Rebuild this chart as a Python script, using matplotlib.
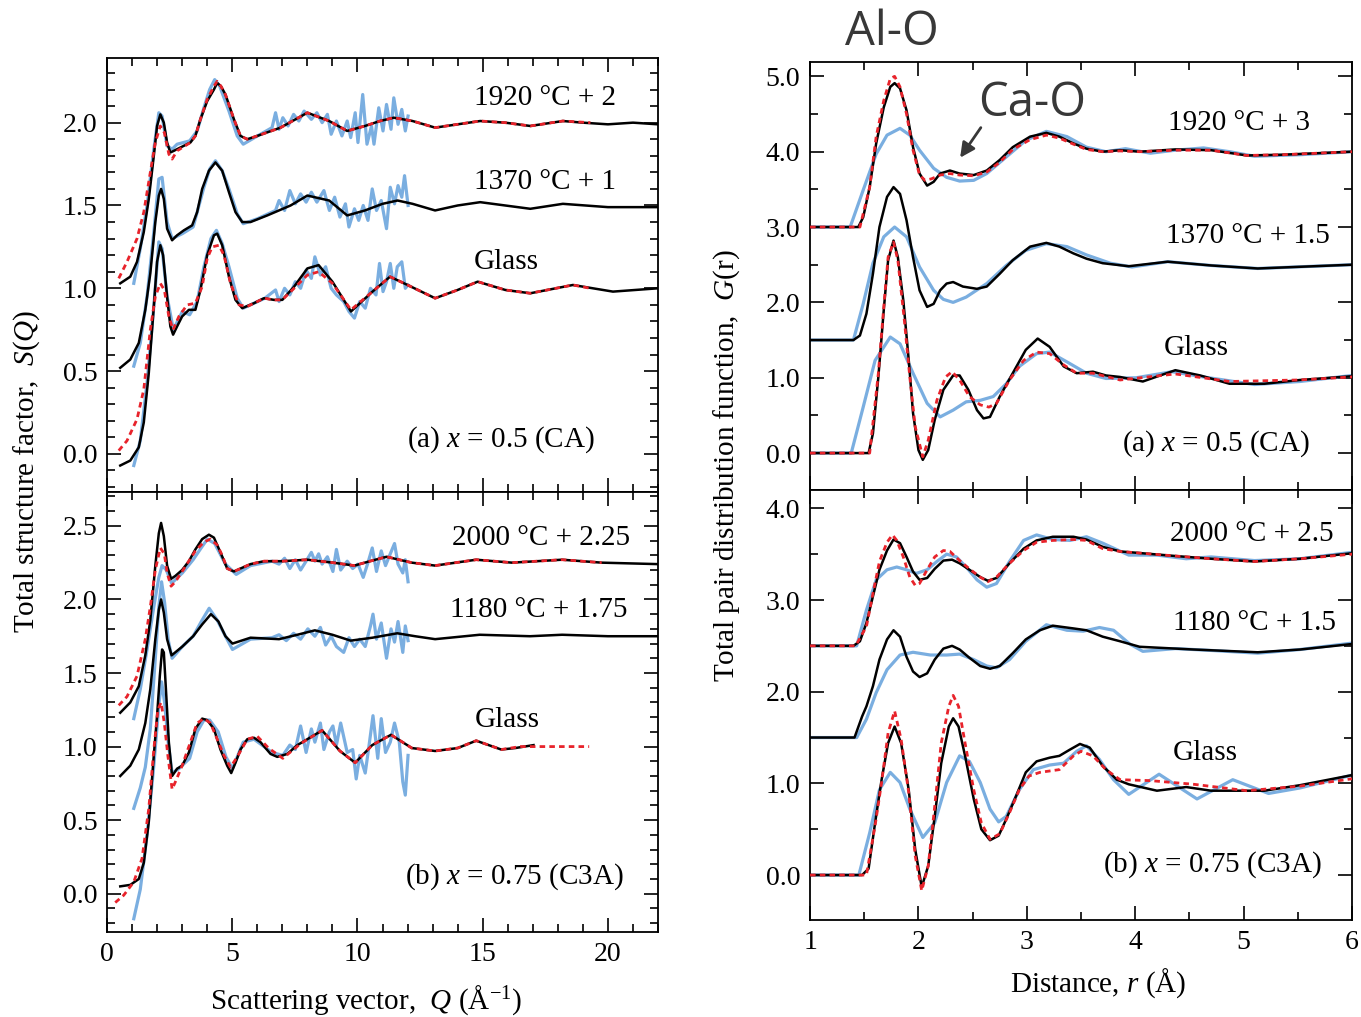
import numpy as np
import matplotlib.pyplot as plt
from matplotlib.ticker import MultipleLocator, FormatStrFormatter

plt.rcParams['font.family'] = 'Liberation Serif'
plt.rcParams['mathtext.fontset'] = 'custom'
plt.rcParams['mathtext.rm'] = 'Liberation Serif'
plt.rcParams['mathtext.it'] = 'Liberation Serif:italic'

BLUE = '#7aaee0'
RED = '#e8232b'

# ---------------- S(Q), x = 0.5 (CA) ----------------
q_1920_blk = [0.53, 0.93, 1.2, 1.47, 1.67, 1.87, 2.0, 2.13, 2.27, 2.4, 2.53, 2.67, 2.93, 3.33, 3.53, 3.73, 4.0, 4.27, 4.4, 4.55, 4.73, 5.07, 5.33, 5.6, 6.0, 6.93, 8.0, 8.87, 9.59, 10.3, 10.9, 11.45, 12.2, 13.1, 14.0, 14.9, 15.9, 16.9, 18.2, 19.0, 20.0, 21.0, 22.0]
s_1920_blk = [1.03, 1.07, 1.16, 1.34, 1.54, 1.80, 1.98, 2.05, 2.0, 1.88, 1.82, 1.83, 1.85, 1.88, 1.92, 2.02, 2.13, 2.20, 2.24, 2.22, 2.17, 2.02, 1.92, 1.90, 1.92, 1.97, 2.06, 2.01, 1.95, 1.98, 2.01, 2.03, 2.01, 1.97, 1.99, 2.01, 2.0, 1.98, 2.01, 2.0, 1.99, 2.0, 1.99]
q_1920_red = [0.47, 0.8, 1.2, 1.47, 1.73, 1.93, 2.13, 2.29, 2.47, 2.6, 2.8, 3.33, 3.53, 3.73, 4.0, 4.27, 4.4, 4.55, 4.73, 5.07, 5.33, 5.6, 6.0, 6.93, 8.0, 8.87, 9.59, 10.3, 10.9, 11.45, 12.2, 13.1, 14.0, 14.9, 15.9, 16.9, 18.2, 19.3]
s_1920_red = [1.06, 1.16, 1.30, 1.46, 1.70, 1.88, 1.98, 1.94, 1.81, 1.78, 1.83, 1.88, 1.92, 2.02, 2.14, 2.22, 2.25, 2.22, 2.17, 2.02, 1.92, 1.90, 1.92, 1.97, 2.06, 2.01, 1.95, 1.98, 2.01, 2.03, 2.01, 1.97, 1.99, 2.01, 2.0, 1.98, 2.01, 2.0]
q_1920_blu = [1.07, 1.33, 1.6, 1.87, 2.07, 2.2, 2.4, 2.6, 2.8, 3.3, 3.6, 3.87, 4.1, 4.3, 4.5, 4.87, 5.2, 5.44, 6.01, 6.59,
              6.73, 6.87, 7.02, 7.23, 7.45, 7.66, 7.87, 8.16, 8.38, 8.59, 8.80, 8.95, 9.16, 9.38, 9.59, 9.73, 9.91, 10.02, 10.21, 10.38, 10.56, 10.66, 10.85, 11.02, 11.16, 11.34, 11.45, 11.62, 11.77, 11.91, 12.02]
s_1920_blu = [1.03, 1.24, 1.50, 1.84, 2.06, 2.04, 1.86, 1.84, 1.87, 1.89, 1.95, 2.09, 2.20, 2.26, 2.22, 2.07, 1.92, 1.87, 1.92, 1.97,
              2.06, 1.96, 2.03, 1.98, 2.05, 2.01, 2.07, 2.02, 2.06, 2.00, 2.05, 1.93, 2.01, 1.92, 2.01, 1.91, 2.06, 1.88, 2.17, 1.87, 1.98, 1.87, 2.09, 1.95, 2.11, 1.96, 2.15, 1.99, 2.08, 1.95, 2.04]

q_1370_blk = [0.53, 0.93, 1.27, 1.53, 1.73, 1.93, 2.07, 2.16, 2.27, 2.4, 2.6, 2.8, 3.07, 3.4, 3.6, 3.8, 4.07, 4.33, 4.6, 4.87, 5.13, 5.4, 5.73, 6.4, 7.33, 8.0, 8.87, 9.59, 10.3, 11.0, 11.6, 12.2, 13.1, 14.0, 14.9, 15.9, 16.9, 18.2, 20.0, 22.0]
s_1370_blk = [0.52, 0.57, 0.67, 0.87, 1.09, 1.40, 1.56, 1.60, 1.54, 1.36, 1.29, 1.32, 1.35, 1.38, 1.46, 1.60, 1.71, 1.76, 1.71, 1.58, 1.46, 1.40, 1.40, 1.44, 1.50, 1.56, 1.53, 1.44, 1.47, 1.51, 1.53, 1.51, 1.47, 1.50, 1.52, 1.50, 1.48, 1.51, 1.49, 1.49]
q_1370_blu = [1.07, 1.33, 1.6, 1.87, 2.07, 2.2, 2.4, 2.6, 3.01, 3.44, 3.87, 4.1, 4.33, 4.6, 4.87, 5.2, 5.44, 6.01,
              6.73, 6.87, 7.09, 7.30, 7.52, 7.73, 7.95, 8.16, 8.38, 8.66, 8.88, 9.09, 9.30, 9.52, 9.66, 9.88, 10.05, 10.23, 10.42, 10.59, 10.76, 10.95, 11.16, 11.31, 11.48, 11.62, 11.77, 11.88, 12.02]
s_1370_blu = [0.53, 0.67, 0.95, 1.34, 1.66, 1.67, 1.40, 1.30, 1.33, 1.37, 1.61, 1.72, 1.77, 1.71, 1.60, 1.45, 1.39, 1.42,
              1.47, 1.53, 1.47, 1.59, 1.51, 1.57, 1.52, 1.58, 1.52, 1.59, 1.47, 1.55, 1.43, 1.51, 1.37, 1.48, 1.41, 1.50, 1.41, 1.60, 1.47, 1.53, 1.36, 1.61, 1.51, 1.62, 1.55, 1.68, 1.50]

q_ca_glass_blk = [0.53, 0.93, 1.27, 1.47, 1.67, 1.87, 2.0, 2.13, 2.24, 2.4, 2.53, 2.64, 2.8, 3.0, 3.27, 3.53, 3.73, 4.0, 4.27, 4.4, 4.6, 4.87, 5.13, 5.4, 5.87, 6.27, 6.67, 7.0, 7.47, 8.0, 8.45, 9.0, 9.74, 10.6, 11.3, 12.0, 13.1, 14.0, 14.8, 15.9, 16.9, 18.6, 20.2, 22.0]
s_ca_glass_blk = [-0.07, -0.04, 0.04, 0.19, 0.49, 0.89, 1.16, 1.26, 1.20, 0.95, 0.77, 0.72, 0.77, 0.83, 0.87, 0.87, 0.99, 1.20, 1.32, 1.33, 1.26, 1.07, 0.93, 0.88, 0.91, 0.94, 0.93, 0.93, 1.01, 1.12, 1.14, 1.04, 0.86, 0.98, 1.07, 1.02, 0.94, 0.99, 1.04, 0.99, 0.97, 1.02, 0.98, 1.00]
q_ca_glass_red = [0.47, 0.8, 1.2, 1.47, 1.73, 1.93, 2.13, 2.29, 2.47, 2.64, 2.87, 3.2, 3.53, 3.8, 4.0, 4.2, 4.47, 4.67, 4.93, 5.27, 5.6, 6.27, 6.67, 7.0, 7.47, 8.0, 8.45, 9.0, 9.74, 10.6, 11.3, 12.0, 13.1, 14.0, 14.8, 15.9, 16.9, 18.6, 19.3]
s_ca_glass_red = [0.02, 0.08, 0.21, 0.39, 0.75, 0.95, 1.03, 0.99, 0.83, 0.75, 0.83, 0.90, 0.91, 1.01, 1.18, 1.25, 1.26, 1.20, 1.03, 0.90, 0.89, 0.94, 0.93, 0.93, 1.00, 1.08, 1.10, 1.03, 0.87, 0.98, 1.07, 1.02, 0.94, 0.99, 1.04, 0.99, 0.97, 1.02, 1.0]
q_ca_glass_blu = [1.07, 1.33, 1.6, 1.87, 2.07, 2.2, 2.4, 2.65, 3.01, 3.30, 3.6, 3.87, 4.15, 4.37, 4.6, 4.87, 5.2, 5.44, 6.30,
                  6.73, 6.87, 7.09, 7.30, 7.52, 7.73, 7.95, 8.16, 8.30, 8.52, 8.73, 8.95, 9.16, 9.45, 9.66, 9.88, 10.09, 10.31, 10.52, 10.74, 10.88, 11.02, 11.16, 11.31, 11.45, 11.59, 11.77, 11.91, 12.02]
s_ca_glass_blu = [-0.07, 0.08, 0.43, 0.89, 1.28, 1.24, 0.95, 0.75, 0.86, 0.84, 0.92, 1.13, 1.30, 1.35, 1.27, 1.13, 0.94, 0.88, 0.94,
                  0.99, 0.92, 1.00, 0.96, 1.04, 1.00, 1.11, 1.06, 1.19, 1.08, 1.13, 1.00, 0.96, 0.92, 0.86, 0.82, 0.92, 0.88, 1.00, 0.96, 1.15, 0.98, 1.04, 1.15, 1.00, 1.13, 1.16, 1.00, 1.02]

# ---------------- S(Q), x = 0.75 (C3A) ----------------
q_2000_blk = [0.53, 0.93, 1.27, 1.53, 1.73, 1.93, 2.07, 2.16, 2.27, 2.4, 2.56, 2.73, 3.0, 3.27, 3.53, 3.8, 4.07, 4.27, 4.53, 4.8, 5.07, 5.33, 5.73, 6.27, 7.0, 8.0, 9.02, 9.88, 10.5, 11.16, 12.17, 13.10, 14.74, 16.17, 18.17, 19.75, 22.0]
s_2000_blk = [1.23, 1.30, 1.41, 1.62, 1.86, 2.23, 2.45, 2.52, 2.43, 2.23, 2.14, 2.16, 2.20, 2.26, 2.34, 2.41, 2.44, 2.42, 2.32, 2.21, 2.19, 2.21, 2.24, 2.26, 2.26, 2.27, 2.25, 2.23, 2.26, 2.29, 2.25, 2.23, 2.27, 2.25, 2.27, 2.25, 2.24]
q_2000_red = [0.47, 0.8, 1.2, 1.53, 1.73, 1.93, 2.13, 2.29, 2.4, 2.56, 2.73, 3.0, 3.53, 3.87, 4.13, 4.4, 4.6, 4.8, 5.07, 5.33, 5.73, 6.27, 7.0, 8.0, 9.02, 9.88, 10.5, 11.16, 12.17, 13.10, 14.74, 16.17, 18.17, 19.75]
s_2000_red = [1.28, 1.34, 1.48, 1.73, 1.95, 2.20, 2.35, 2.31, 2.18, 2.09, 2.12, 2.19, 2.33, 2.39, 2.41, 2.37, 2.30, 2.21, 2.19, 2.21, 2.24, 2.26, 2.26, 2.27, 2.25, 2.23, 2.26, 2.29, 2.25, 2.23, 2.27, 2.25, 2.27, 2.25]
q_2000_blu = [1.07, 1.33, 1.6, 1.87, 2.07, 2.2, 2.37, 2.58, 3.01, 3.44, 3.8, 4.01, 4.3, 4.73, 5.16, 5.73, 6.59,
              6.87, 7.09, 7.30, 7.52, 7.73, 7.95, 8.16, 8.30, 8.45, 8.59, 8.80, 9.02, 9.16, 9.33, 9.59, 9.81, 10.02, 10.23, 10.42, 10.59, 10.76, 10.95, 11.12, 11.31, 11.48, 11.62, 11.81, 11.91, 12.02]
s_2000_blu = [1.19, 1.39, 1.66, 1.95, 2.15, 2.23, 2.20, 2.11, 2.18, 2.27, 2.36, 2.41, 2.38, 2.24, 2.17, 2.23, 2.26,
              2.24, 2.28, 2.21, 2.27, 2.20, 2.26, 2.32, 2.26, 2.31, 2.24, 2.29, 2.19, 2.34, 2.20, 2.26, 2.21, 2.24, 2.15, 2.25, 2.35, 2.19, 2.33, 2.23, 2.31, 2.38, 2.24, 2.18, 2.27, 2.12]

q_1180_blk = [0.53, 0.93, 1.27, 1.53, 1.73, 1.93, 2.07, 2.16, 2.27, 2.4, 2.58, 3.01, 3.44, 3.8, 4.15, 4.45, 4.73, 5.01, 5.73, 6.87, 7.6, 8.30, 9.0, 9.73, 10.6, 11.59, 12.3, 13.1, 14.88, 16.89, 18.17, 20.0, 22.0]
s_1180_blk = [0.80, 0.87, 0.98, 1.16, 1.39, 1.73, 1.93, 2.00, 1.91, 1.73, 1.62, 1.68, 1.75, 1.83, 1.90, 1.85, 1.75, 1.70, 1.74, 1.73, 1.76, 1.79, 1.76, 1.72, 1.74, 1.77, 1.75, 1.73, 1.76, 1.75, 1.76, 1.75, 1.75]
q_1180_blu = [1.07, 1.33, 1.53, 1.73, 1.93, 2.07, 2.18, 2.3, 2.45, 2.6, 3.01, 3.44, 3.8, 4.08, 4.4, 4.73, 5.01, 5.73, 6.59,
              6.87, 7.16, 7.45, 7.73, 8.02, 8.30, 8.52, 8.73, 8.95, 9.16, 9.45, 9.66, 9.88, 10.09, 10.31, 10.52, 10.62, 10.76, 10.95, 11.16, 11.34, 11.48, 11.62, 11.81, 11.91, 12.02]
s_1180_blu = [0.58, 0.72, 0.86, 1.12, 1.60, 1.95, 2.12, 1.98, 1.72, 1.60, 1.68, 1.75, 1.86, 1.94, 1.86, 1.75, 1.66, 1.73, 1.74,
              1.76, 1.72, 1.77, 1.73, 1.80, 1.75, 1.81, 1.69, 1.75, 1.68, 1.64, 1.74, 1.68, 1.73, 1.68, 1.82, 1.90, 1.73, 1.84, 1.60, 1.80, 1.71, 1.85, 1.64, 1.82, 1.72]

q_c3a_glass_blk = [0.53, 0.93, 1.27, 1.47, 1.67, 1.87, 2.0, 2.11, 2.2, 2.27, 2.37, 2.47, 2.6, 2.8, 3.0, 3.27, 3.53, 3.8, 4.0, 4.27, 4.53, 4.8, 4.96, 5.13, 5.33, 5.6, 5.87, 6.13, 6.53, 6.8, 7.2, 7.6, 8.0, 8.59, 9.30, 9.91, 10.59, 11.34, 12.17, 13.10, 14.0, 14.74, 15.74, 16.3, 17.03]
s_c3a_glass_blk = [0.05, 0.06, 0.10, 0.21, 0.49, 0.94, 1.21, 1.48, 1.66, 1.64, 1.34, 1.03, 0.80, 0.85, 0.87, 0.96, 1.12, 1.19, 1.18, 1.12, 0.98, 0.87, 0.82, 0.89, 0.98, 1.05, 1.06, 1.03, 0.95, 0.93, 0.95, 1.01, 1.05, 1.11, 0.97, 0.89, 1.01, 1.08, 0.99, 0.97, 0.99, 1.04, 0.98, 0.99, 1.01]
q_c3a_glass_red = [0.33, 0.67, 1.07, 1.4, 1.67, 1.87, 2.03, 2.16, 2.29, 2.43, 2.6, 2.73, 3.0, 3.33, 3.6, 3.87, 4.13, 4.4, 4.67, 4.93, 5.2, 5.6, 6.0, 6.45, 7.02, 7.73, 8.59, 9.30, 9.91, 10.59, 11.34, 12.17, 13.10, 14.0, 14.74, 15.74, 16.5, 17.5, 18.5, 19.25]
s_c3a_glass_red = [-0.06, -0.01, 0.08, 0.24, 0.58, 0.98, 1.25, 1.30, 1.16, 0.94, 0.71, 0.76, 0.87, 1.03, 1.16, 1.19, 1.16, 1.05, 0.94, 0.86, 0.93, 1.05, 1.07, 0.99, 0.92, 1.02, 1.11, 0.97, 0.89, 1.01, 1.08, 0.99, 0.97, 0.99, 1.04, 0.98, 1.0, 1.0, 1.0, 1.0]
q_c3a_glass_blu = [1.07, 1.33, 1.6, 1.87, 2.07, 2.18, 2.3, 2.45, 2.6, 2.87, 3.30, 3.6, 3.87, 4.1, 4.44, 4.75, 5.01, 5.44, 5.87, 6.59, 7.02,
                   7.30, 7.52, 7.73, 7.95, 8.16, 8.30, 8.52, 8.66, 8.88, 9.02, 9.16, 9.33, 9.59, 9.81, 9.95, 10.09, 10.31, 10.48, 10.62, 10.81, 10.95, 11.12, 11.31, 11.48, 11.67, 11.81, 11.91, 12.02]
s_c3a_glass_blu = [-0.17, 0.03, 0.40, 0.87, 1.28, 1.44, 1.30, 1.02, 0.82, 0.85, 0.92, 1.10, 1.18, 1.18, 1.10, 0.93, 0.85, 1.03, 1.05, 0.96, 0.94,
                   1.01, 0.98, 1.14, 0.96, 1.12, 1.03, 1.16, 0.98, 1.10, 1.14, 1.01, 1.16, 0.96, 0.98, 0.78, 0.94, 0.82, 1.03, 1.21, 0.92, 1.19, 0.96, 1.03, 1.16, 1.03, 0.76, 0.67, 0.94]

# ---------------- G(r), x = 0.5 (CA) ----------------
r_1920_blk = [1.0, 1.445, 1.49, 1.55, 1.61, 1.68, 1.74, 1.78, 1.83, 1.89, 1.95, 2.01, 2.08, 2.14, 2.20, 2.29, 2.38, 2.51, 2.63, 2.75, 2.87, 3.03, 3.18, 3.30, 3.43, 3.55, 3.70, 3.86, 4.04, 4.37, 4.70, 5.03, 5.36, 6.0]
g_1920_blk = [3.0, 3.0, 3.13, 3.53, 4.11, 4.59, 4.86, 4.91, 4.84, 4.55, 4.06, 3.71, 3.55, 3.60, 3.71, 3.75, 3.71, 3.69, 3.75, 3.89, 4.06, 4.20, 4.25, 4.20, 4.11, 4.04, 4.00, 4.02, 4.00, 4.03, 4.02, 3.95, 3.96, 4.0]
r_1920_red = [1.0, 1.46, 1.55, 1.61, 1.68, 1.74, 1.78, 1.83, 1.89, 1.95, 2.01, 2.06, 2.12, 2.20, 2.29, 2.38, 2.51, 2.63, 2.75, 2.87, 3.03, 3.18, 3.30, 3.43, 3.55, 3.70, 3.86, 4.04, 4.37, 4.70, 5.03, 5.36, 6.0]
g_1920_red = [3.0, 3.0, 3.53, 4.20, 4.68, 4.97, 5.0, 4.86, 4.50, 4.02, 3.69, 3.62, 3.64, 3.69, 3.71, 3.69, 3.68, 3.73, 3.86, 4.03, 4.16, 4.22, 4.18, 4.10, 4.03, 4.00, 4.01, 4.00, 4.02, 4.02, 3.95, 3.96, 4.0]
r_1920_blu = [1.0, 1.37, 1.49, 1.61, 1.71, 1.83, 1.92, 2.01, 2.14, 2.26, 2.38, 2.51, 2.63, 2.81, 2.99, 3.18, 3.37, 3.55, 3.73, 3.91, 4.14, 4.37, 4.63, 4.87, 5.10, 5.52, 6.0]
g_1920_blu = [3.0, 3.0, 3.49, 3.97, 4.22, 4.31, 4.22, 4.02, 3.78, 3.66, 3.61, 3.62, 3.71, 3.93, 4.15, 4.27, 4.20, 4.06, 4.00, 4.04, 3.98, 4.02, 4.05, 4.00, 3.94, 3.96, 4.0]

r_1370_blk = [1.0, 1.40, 1.46, 1.52, 1.58, 1.64, 1.71, 1.77, 1.83, 1.89, 1.95, 2.01, 2.08, 2.14, 2.20, 2.26, 2.32, 2.41, 2.54, 2.63, 2.75, 2.87, 3.03, 3.18, 3.30, 3.43, 3.55, 3.70, 3.94, 4.30, 4.70, 5.13, 6.0]
g_1370_blk = [1.5, 1.5, 1.56, 1.85, 2.38, 3.0, 3.40, 3.53, 3.44, 3.09, 2.60, 2.16, 1.94, 1.98, 2.16, 2.25, 2.27, 2.21, 2.18, 2.21, 2.38, 2.56, 2.74, 2.79, 2.74, 2.65, 2.58, 2.52, 2.48, 2.54, 2.49, 2.45, 2.50]
r_1370_blu = [1.0, 1.40, 1.49, 1.58, 1.68, 1.78, 1.89, 2.01, 2.14, 2.23, 2.32, 2.44, 2.63, 2.81, 2.99, 3.18, 3.37, 3.55, 3.77, 3.97, 4.30, 4.70, 5.13, 6.0]
g_1370_blu = [1.5, 1.5, 1.98, 2.52, 2.87, 3.0, 2.87, 2.47, 2.16, 2.04, 2.0, 2.07, 2.25, 2.49, 2.69, 2.78, 2.74, 2.63, 2.52, 2.47, 2.54, 2.49, 2.45, 2.50]

r_ca_glass_blk = [1.0, 1.54, 1.58, 1.63, 1.68, 1.72, 1.77, 1.81, 1.86, 1.91, 1.95, 2.0, 2.04, 2.09, 2.15, 2.23, 2.32, 2.38, 2.46, 2.54, 2.60, 2.66, 2.75, 2.87, 2.99, 3.10, 3.21, 3.34, 3.46, 3.61, 3.73, 3.86, 4.07, 4.37, 4.60, 4.87, 5.19, 5.52, 6.0]
g_ca_glass_blk = [0.0, 0.0, 0.26, 1.01, 1.90, 2.56, 2.82, 2.60, 2.03, 1.24, 0.53, 0.04, -0.09, 0.04, 0.44, 0.84, 1.03, 1.03, 0.84, 0.57, 0.46, 0.48, 0.75, 1.06, 1.37, 1.52, 1.41, 1.15, 1.06, 1.08, 1.03, 1.01, 0.95, 1.10, 1.03, 0.92, 0.92, 0.97, 1.02]
r_ca_glass_red = [1.0, 1.55, 1.63, 1.68, 1.72, 1.77, 1.81, 1.87, 1.92, 1.97, 2.04, 2.09, 2.17, 2.25, 2.31, 2.38, 2.47, 2.57, 2.65, 2.72, 2.84, 2.97, 3.09, 3.21, 3.34, 3.46, 3.61, 3.86, 4.37, 4.87, 5.5, 6.0]
g_ca_glass_red = [0.0, 0.0, 1.06, 1.94, 2.60, 2.80, 2.56, 1.76, 1.01, 0.35, -0.05, 0.17, 0.70, 1.01, 1.08, 0.97, 0.75, 0.64, 0.61, 0.66, 0.97, 1.23, 1.34, 1.32, 1.17, 1.06, 1.06, 0.97, 1.05, 0.95, 0.97, 1.01]
r_ca_glass_blu = [1.0, 1.38, 1.49, 1.60, 1.74, 1.83, 1.95, 2.08, 2.20, 2.32, 2.44, 2.57, 2.69, 2.81, 2.93, 3.09, 3.21, 3.37, 3.55, 3.73, 4.01, 4.34, 4.63, 5.10, 5.52, 6.0]
g_ca_glass_blu = [0.0, 0.0, 0.61, 1.23, 1.54, 1.45, 1.06, 0.66, 0.48, 0.57, 0.68, 0.70, 0.75, 0.92, 1.15, 1.32, 1.34, 1.21, 1.06, 0.99, 1.00, 1.08, 1.01, 0.91, 0.95, 1.03]

# ---------------- G(r), x = 0.75 (C3A) ----------------
r_2000_blk = [1.0, 1.40, 1.46, 1.52, 1.58, 1.64, 1.71, 1.77, 1.83, 1.89, 1.95, 2.01, 2.08, 2.15, 2.23, 2.31, 2.38, 2.47, 2.57, 2.64, 2.72, 2.84, 2.97, 3.09, 3.24, 3.43, 3.55, 3.70, 3.86, 4.37, 4.70, 5.10, 5.52, 6.0]
g_2000_blk = [2.5, 2.5, 2.55, 2.75, 3.04, 3.33, 3.54, 3.66, 3.62, 3.47, 3.31, 3.22, 3.24, 3.34, 3.43, 3.44, 3.40, 3.33, 3.25, 3.21, 3.24, 3.40, 3.56, 3.65, 3.69, 3.69, 3.66, 3.58, 3.53, 3.48, 3.45, 3.42, 3.45, 3.51]
r_2000_red = [1.0, 1.42, 1.52, 1.58, 1.64, 1.71, 1.76, 1.80, 1.86, 1.92, 1.97, 2.01, 2.08, 2.15, 2.23, 2.29, 2.38, 2.47, 2.57, 2.64, 2.72, 2.84, 2.97, 3.09, 3.24, 3.43, 3.55, 3.70, 3.86, 4.37, 4.70, 5.10, 5.52, 6.0]
g_2000_red = [2.5, 2.5, 2.71, 3.07, 3.42, 3.63, 3.71, 3.65, 3.47, 3.25, 3.16, 3.18, 3.33, 3.47, 3.54, 3.53, 3.43, 3.34, 3.25, 3.20, 3.25, 3.40, 3.54, 3.63, 3.65, 3.66, 3.65, 3.56, 3.53, 3.48, 3.45, 3.42, 3.45, 3.50]
r_2000_blu = [1.0, 1.43, 1.52, 1.61, 1.71, 1.80, 1.89, 1.98, 2.08, 2.17, 2.26, 2.35, 2.44, 2.54, 2.63, 2.72, 2.84, 2.97, 3.09, 3.24, 3.40, 3.55, 3.70, 3.94, 4.20, 4.47, 4.70, 5.10, 5.52, 6.0]
g_2000_blu = [2.5, 2.5, 2.89, 3.22, 3.33, 3.36, 3.33, 3.29, 3.33, 3.42, 3.50, 3.47, 3.36, 3.22, 3.14, 3.18, 3.42, 3.65, 3.71, 3.66, 3.65, 3.69, 3.62, 3.49, 3.49, 3.45, 3.47, 3.43, 3.45, 3.52]

r_1180_blk = [1.0, 1.41, 1.48, 1.52, 1.58, 1.64, 1.71, 1.77, 1.83, 1.89, 1.95, 2.01, 2.08, 2.15, 2.23, 2.31, 2.38, 2.47, 2.57, 2.66, 2.75, 2.87, 2.99, 3.12, 3.24, 3.43, 3.55, 3.70, 3.86, 4.04, 4.54, 5.13, 5.52, 6.0]
g_1180_blk = [1.5, 1.5, 1.73, 1.84, 2.06, 2.35, 2.57, 2.67, 2.60, 2.38, 2.22, 2.16, 2.20, 2.35, 2.47, 2.50, 2.46, 2.37, 2.28, 2.25, 2.28, 2.42, 2.57, 2.67, 2.72, 2.69, 2.67, 2.60, 2.55, 2.49, 2.46, 2.43, 2.46, 2.52]
r_1180_blu = [1.0, 1.43, 1.52, 1.61, 1.71, 1.83, 1.95, 2.11, 2.26, 2.38, 2.51, 2.63, 2.72, 2.84, 2.99, 3.18, 3.37, 3.52, 3.67, 3.80, 3.95, 4.07, 4.37, 4.70, 5.13, 5.52, 6.0]
g_1180_blu = [1.5, 1.5, 1.70, 1.99, 2.24, 2.40, 2.43, 2.40, 2.40, 2.41, 2.35, 2.28, 2.26, 2.35, 2.55, 2.73, 2.67, 2.66, 2.70, 2.67, 2.52, 2.44, 2.47, 2.45, 2.42, 2.46, 2.53]

r_c3a_glass_blk = [1.0, 1.48, 1.54, 1.60, 1.66, 1.72, 1.78, 1.84, 1.91, 1.97, 2.03, 2.09, 2.15, 2.21, 2.28, 2.32, 2.37, 2.43, 2.51, 2.58, 2.66, 2.74, 2.81, 2.90, 2.99, 3.09, 3.21, 3.30, 3.40, 3.49, 3.58, 3.70, 3.83, 3.94, 4.20, 4.47, 4.70, 5.19, 5.52, 6.0]
g_c3a_glass_blk = [0.0, 0.0, 0.07, 0.57, 1.04, 1.44, 1.62, 1.44, 0.93, 0.28, -0.13, 0.10, 0.64, 1.22, 1.62, 1.71, 1.62, 1.30, 0.83, 0.50, 0.38, 0.43, 0.61, 0.86, 1.12, 1.24, 1.28, 1.30, 1.37, 1.43, 1.39, 1.19, 1.04, 0.99, 0.92, 0.96, 0.92, 0.92, 0.98, 1.09]
r_c3a_glass_red = [1.0, 1.52, 1.60, 1.66, 1.72, 1.78, 1.84, 1.91, 1.97, 2.03, 2.09, 2.15, 2.21, 2.28, 2.32, 2.37, 2.43, 2.51, 2.58, 2.66, 2.75, 2.84, 2.93, 3.02, 3.12, 3.30, 3.43, 3.50, 3.61, 3.73, 3.86, 4.14, 4.54, 5.03, 5.52, 6.0]
g_c3a_glass_red = [0.0, 0.0, 0.54, 1.01, 1.55, 1.79, 1.48, 0.90, 0.21, -0.17, 0.10, 0.75, 1.44, 1.84, 1.96, 1.84, 1.44, 0.93, 0.57, 0.39, 0.45, 0.68, 0.93, 1.08, 1.12, 1.15, 1.30, 1.35, 1.30, 1.15, 1.04, 1.03, 0.99, 0.92, 0.97, 1.05]
r_c3a_glass_blu = [1.0, 1.45, 1.55, 1.64, 1.74, 1.83, 1.92, 2.04, 2.15, 2.26, 2.38, 2.47, 2.57, 2.66, 2.74, 2.81, 2.93, 3.06, 3.21, 3.34, 3.46, 3.55, 3.67, 3.80, 3.94, 4.22, 4.57, 4.90, 5.23, 5.52, 6.0]
g_c3a_glass_blu = [0.0, 0.0, 0.46, 0.93, 1.12, 1.01, 0.72, 0.41, 0.57, 1.01, 1.30, 1.24, 1.01, 0.72, 0.58, 0.64, 0.93, 1.15, 1.20, 1.22, 1.35, 1.41, 1.26, 1.04, 0.88, 1.10, 0.83, 1.04, 0.89, 0.95, 1.09]


def draw_set(ax, blu, blk, red=None):
    # blue under, then black, red dashed on top
    ax.plot(blu[0], blu[1], color=BLUE, lw=2.3, solid_joinstyle='round', zorder=2)
    ax.plot(blk[0], blk[1], color='black', lw=1.8, solid_joinstyle='round', zorder=3)
    if red is not None:
        ax.plot(red[0], red[1], color=RED, lw=2.0, ls=(0, (2.0, 1.5)), zorder=4)


def style(ax, xmaj, xmin, ymaj, ymin):
    ax.xaxis.set_major_locator(MultipleLocator(xmaj))
    ax.xaxis.set_minor_locator(MultipleLocator(xmin))
    ax.yaxis.set_major_locator(MultipleLocator(ymaj))
    ax.yaxis.set_minor_locator(MultipleLocator(ymin))
    ax.yaxis.set_major_formatter(FormatStrFormatter('%.1f'))
    ax.tick_params(which='both', direction='in', top=True, right=True, labelsize=20, width=1.2)
    ax.tick_params(which='major', length=10, pad=7)
    ax.tick_params(which='minor', length=6)
    for sp in ax.spines.values():
        sp.set_linewidth(1.3)


fig = plt.figure(figsize=(13.61, 10.17), dpi=100)
ax_sa = fig.add_axes([0.0786, 0.5162, 0.4049, 0.4267])
ax_sb = fig.add_axes([0.0786, 0.0836, 0.4049, 0.4326])
ax_ga = fig.add_axes([0.5952, 0.5182, 0.3982, 0.4208])
ax_gb = fig.add_axes([0.5952, 0.0954, 0.3982, 0.4228])

draw_set(ax_sa, (q_1920_blu, s_1920_blu), (q_1920_blk, s_1920_blk), (q_1920_red, s_1920_red))
draw_set(ax_sa, (q_1370_blu, s_1370_blu), (q_1370_blk, s_1370_blk))
draw_set(ax_sa, (q_ca_glass_blu, s_ca_glass_blu), (q_ca_glass_blk, s_ca_glass_blk), (q_ca_glass_red, s_ca_glass_red))
ax_sa.set_xlim(0, 22)
ax_sa.set_ylim(-0.23, 2.39)
style(ax_sa, 5, 1, 0.5, 0.1)
ax_sa.tick_params(labelbottom=False)
ax_sa.text(14.64, 2.15, '1920 °C + 2', fontsize=21, va='center')
ax_sa.text(14.64, 1.64, '1370 °C + 1', fontsize=21, va='center')
ax_sa.text(14.64, 1.16, 'Glass', fontsize=21, va='center')
ax_sa.text(11.96, 0.085, '(a) $x$ = 0.5 (CA)', fontsize=21, va='center')

draw_set(ax_sb, (q_2000_blu, s_2000_blu), (q_2000_blk, s_2000_blk), (q_2000_red, s_2000_red))
draw_set(ax_sb, (q_1180_blu, s_1180_blu), (q_1180_blk, s_1180_blk))
draw_set(ax_sb, (q_c3a_glass_blu, s_c3a_glass_blu), (q_c3a_glass_blk, s_c3a_glass_blk), (q_c3a_glass_red, s_c3a_glass_red))
ax_sb.set_xlim(0, 22)
ax_sb.set_ylim(-0.26, 2.73)
style(ax_sb, 5, 1, 0.5, 0.1)
ax_sb.xaxis.set_major_formatter(FormatStrFormatter('%d'))
ax_sb.text(13.76, 2.42, '2000 °C + 2.25', fontsize=21, va='center')
ax_sb.text(13.68, 1.93, '1180 °C + 1.75', fontsize=21, va='center')
ax_sb.text(14.68, 1.18, 'Glass', fontsize=21, va='center')
ax_sb.text(11.88, 0.115, '(b) $x$ = 0.75 (C3A)', fontsize=21, va='center')

draw_set(ax_ga, (r_1920_blu, g_1920_blu), (r_1920_blk, g_1920_blk), (r_1920_red, g_1920_red))
draw_set(ax_ga, (r_1370_blu, g_1370_blu), (r_1370_blk, g_1370_blk))
draw_set(ax_ga, (r_ca_glass_blu, g_ca_glass_blu), (r_ca_glass_blk, g_ca_glass_blk), (r_ca_glass_red, g_ca_glass_red))
ax_ga.set_xlim(1, 6)
ax_ga.set_ylim(-0.49, 5.19)
style(ax_ga, 1, 0.5, 1.0, 0.5)
ax_ga.tick_params(labelbottom=False)
ax_ga.text(4.30, 4.38, '1920 °C + 3', fontsize=21, va='center')
ax_ga.text(4.28, 2.88, '1370 °C + 1.5', fontsize=21, va='center')
ax_ga.text(4.26, 1.39, 'Glass', fontsize=21, va='center')
ax_ga.text(3.88, 0.13, '(a) $x$ = 0.5 (CA)', fontsize=21, va='center')
ax_ga.text(2.55, 4.64, 'Ca-O', fontsize=34, family='Open Sans', color='#383838', va='center')
ax_ga.annotate('', xy=(2.37, 3.89), xytext=(2.59, 4.35),
               arrowprops=dict(arrowstyle='-|>', color='#383838', lw=2, mutation_scale=22))

draw_set(ax_gb, (r_2000_blu, g_2000_blu), (r_2000_blk, g_2000_blk), (r_2000_red, g_2000_red))
draw_set(ax_gb, (r_1180_blu, g_1180_blu), (r_1180_blk, g_1180_blk))
draw_set(ax_gb, (r_c3a_glass_blu, g_c3a_glass_blu), (r_c3a_glass_blk, g_c3a_glass_blk), (r_c3a_glass_red, g_c3a_glass_red))
ax_gb.set_xlim(1, 6)
ax_gb.set_ylim(-0.49, 4.2)
style(ax_gb, 1, 0.5, 1.0, 0.5)
ax_gb.xaxis.set_major_formatter(FormatStrFormatter('%d'))
ax_gb.text(4.32, 3.72, '2000 °C + 2.5', fontsize=21, va='center')
ax_gb.text(4.35, 2.75, '1180 °C + 1.5', fontsize=21, va='center')
ax_gb.text(4.35, 1.33, 'Glass', fontsize=21, va='center')
ax_gb.text(3.70, 0.11, '(b) $x$ = 0.75 (C3A)', fontsize=21, va='center')

fig.text(0.621, 0.9685, 'Al-O', fontsize=34, family='Open Sans', color='#383838', va='center')
fig.text(0.0195, 0.537, 'Total structure factor,  $S$($Q$)', fontsize=21, rotation=90, ha='center', va='center')
fig.text(0.534, 0.542, 'Total pair distribution function,  $G$(r)', fontsize=21, rotation=90, ha='center', va='center')
fig.text(0.269, 0.0167, 'Scattering vector,  $Q$ (Å$^{\\mathregular{-1}}$)', fontsize=21, ha='center', va='center')
fig.text(0.807, 0.0334, 'Distance, $r$ (Å)', fontsize=21, ha='center', va='center')

fig.savefig('out.png', dpi=100)
